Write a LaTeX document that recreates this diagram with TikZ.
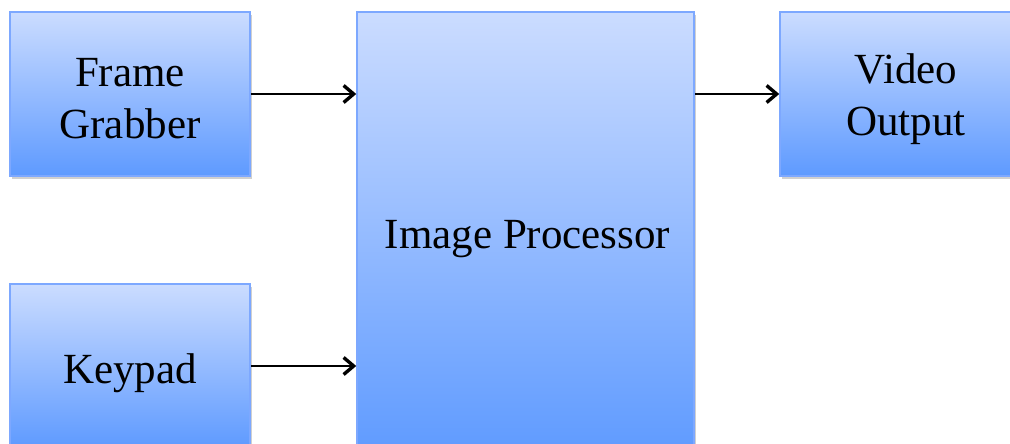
\documentclass[tikz,border=0pt]{standalone}
\usepackage{fontspec}
\setmainfont{Liberation Serif}
\usetikzlibrary{arrows.meta,shadows}
\definecolor{boxtop}{RGB}{203,220,255}
\definecolor{boxbot}{RGB}{94,154,255}
\definecolor{boxedge}{RGB}{125,168,255}
\begin{document}
\begin{tikzpicture}[x=1pt,y=-1pt,
  blk/.style={rectangle, draw=boxedge, line width=1.5pt, top color=boxtop, bottom color=boxbot,
    inner sep=0pt,
    drop shadow={shadow xshift=2pt, shadow yshift=-3pt, opacity=0.3, fill=black!60}},
  lbl/.style={inner sep=0pt, align=center, font=\fontsize{43}{52}\selectfont},
  conn/.style={line width=2pt, -{Straight Barb[length=10pt,width=17pt,line width=3.4pt]}}]
\useasboundingbox (0,0) rectangle (1010,444);
\clip (0,0) rectangle (1010,444);
\fill[white] (0,0) rectangle (1010,444);
\node[blk, minimum width=240pt, minimum height=164pt] (fg) at (130,94) {};
\node[blk, minimum width=240pt, minimum height=164pt] (kp) at (130,366) {};
\node[blk, minimum width=337pt, minimum height=446pt] (ip) at (525.5,235) {};
\node[blk, minimum width=252pt, minimum height=164pt] (vo) at (906,94) {};
\node[lbl] (fgt) at ([yshift=-5pt]fg.center) {Frame\\Grabber};
\node[lbl] (kpt) at ([yshift=-7pt]kp.center) {Keypad};
\node[lbl] (ipt) at ([xshift=2pt,yshift=-4pt]ip.center) {Image Processor};
\node[lbl] (vot) at ([yshift=-5pt]vo.center) {Video\\Output};
\draw[conn] (fg.east) -- (fg.east -| ip.west);
\draw[conn] (kp.east) -- (kp.east -| ip.west);
\draw[conn] (ip.east |- vo.west) -- (vo.west);
\end{tikzpicture}
\end{document}
